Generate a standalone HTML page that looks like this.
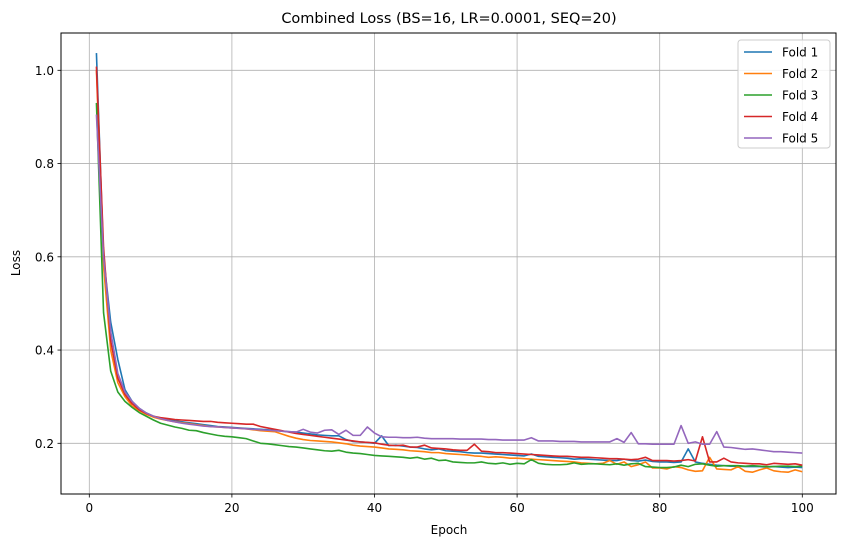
<!DOCTYPE html>
<html><head><meta charset="utf-8">
<style>
body{margin:0;background:#fff;}
svg text{font-family:"DejaVu Sans","Liberation Sans",sans-serif;fill:#000;}
</style></head>
<body>
<svg id="chart" width="846" height="547" viewBox="0 0 846 547" xmlns="http://www.w3.org/2000/svg">
<rect width="846" height="547" fill="#fff"/>
<text x="449" y="23" font-size="14.5" text-anchor="middle">Combined Loss (BS=16, LR=0.0001, SEQ=20)</text>
<g id="grid"></g>
<g id="lines"></g>
<rect x="61" y="33" width="775" height="461" fill="none" stroke="#000" stroke-width="1"/>
<g id="ticks"></g>
<text x="449" y="534" font-size="12" text-anchor="middle">Epoch</text>
<text x="20" y="263" font-size="12" text-anchor="middle" transform="rotate(-90 20 263)">Loss</text>
<g id="legend"></g>
</svg>
<script>
const foldNames=["Fold 1","Fold 2","Fold 3","Fold 4","Fold 5"];
const foldColors=["#1f77b4","#ff7f0e","#2ca02c","#d62728","#9467bd"];
const xTicks=[0,20,40,60,80,100];
const yTicks=[0.2,0.4,0.6,0.8,1.0];
const fold1=[1.037,0.60,0.46,0.38,0.315,0.29,0.275,0.265,0.258,0.254,0.251,0.248,0.246,0.244,0.242,0.240,0.238,0.236,0.235,0.234,0.233,0.232,0.231,0.230,0.229,0.228,0.226,0.225,0.224,0.222,0.220,0.218,0.217,0.216,0.216,0.208,0.204,0.203,0.202,0.200,0.216,0.195,0.196,0.194,0.192,0.191,0.188,0.186,0.188,0.184,0.183,0.182,0.180,0.179,0.179,0.178,0.177,0.176,0.175,0.174,0.173,0.177,0.172,0.171,0.170,0.169,0.168,0.166,0.167,0.166,0.165,0.164,0.163,0.163,0.166,0.163,0.162,0.164,0.161,0.160,0.160,0.159,0.160,0.188,0.160,0.157,0.155,0.153,0.152,0.151,0.151,0.150,0.150,0.150,0.149,0.150,0.149,0.148,0.149,0.148];
const fold2=[1.0,0.58,0.40,0.33,0.30,0.28,0.27,0.262,0.256,0.252,0.249,0.246,0.244,0.242,0.240,0.238,0.236,0.235,0.234,0.233,0.232,0.231,0.229,0.227,0.226,0.225,0.220,0.215,0.211,0.208,0.206,0.205,0.204,0.203,0.201,0.199,0.196,0.194,0.193,0.192,0.190,0.188,0.187,0.186,0.184,0.183,0.182,0.180,0.180,0.178,0.177,0.176,0.175,0.173,0.172,0.170,0.171,0.170,0.168,0.168,0.167,0.166,0.165,0.164,0.163,0.162,0.161,0.160,0.158,0.157,0.156,0.157,0.163,0.155,0.160,0.150,0.154,0.160,0.147,0.147,0.145,0.150,0.148,0.143,0.140,0.141,0.170,0.145,0.144,0.143,0.150,0.140,0.138,0.143,0.147,0.141,0.139,0.138,0.143,0.139];
const fold3=[0.93,0.48,0.355,0.31,0.29,0.277,0.266,0.258,0.250,0.243,0.239,0.235,0.232,0.228,0.227,0.223,0.220,0.217,0.215,0.214,0.212,0.210,0.205,0.200,0.199,0.197,0.195,0.193,0.192,0.190,0.188,0.186,0.184,0.183,0.185,0.181,0.179,0.178,0.176,0.174,0.173,0.172,0.171,0.170,0.168,0.170,0.166,0.168,0.163,0.164,0.160,0.159,0.158,0.158,0.160,0.157,0.156,0.158,0.155,0.157,0.156,0.165,0.157,0.155,0.154,0.154,0.155,0.158,0.155,0.156,0.156,0.155,0.154,0.156,0.153,0.156,0.157,0.150,0.149,0.148,0.148,0.149,0.153,0.150,0.155,0.156,0.153,0.151,0.152,0.152,0.152,0.151,0.152,0.151,0.150,0.150,0.151,0.151,0.150,0.151];
const fold4=[1.008,0.62,0.42,0.34,0.305,0.285,0.272,0.264,0.258,0.255,0.253,0.251,0.250,0.249,0.248,0.247,0.247,0.245,0.244,0.243,0.242,0.241,0.241,0.236,0.233,0.230,0.227,0.224,0.221,0.219,0.217,0.215,0.213,0.211,0.209,0.207,0.205,0.203,0.202,0.201,0.198,0.196,0.195,0.196,0.192,0.192,0.196,0.190,0.189,0.188,0.186,0.185,0.185,0.198,0.183,0.182,0.180,0.180,0.179,0.178,0.177,0.176,0.175,0.174,0.173,0.172,0.172,0.171,0.170,0.170,0.169,0.168,0.167,0.167,0.166,0.165,0.166,0.170,0.163,0.163,0.163,0.162,0.163,0.165,0.162,0.214,0.160,0.160,0.168,0.160,0.158,0.157,0.156,0.156,0.154,0.157,0.156,0.155,0.156,0.153];
const fold5=[0.905,0.60,0.44,0.35,0.31,0.29,0.275,0.265,0.258,0.253,0.249,0.246,0.243,0.241,0.239,0.237,0.236,0.235,0.234,0.233,0.232,0.231,0.230,0.229,0.228,0.227,0.226,0.225,0.224,0.230,0.224,0.222,0.228,0.229,0.219,0.228,0.217,0.217,0.235,0.222,0.214,0.213,0.213,0.212,0.212,0.213,0.211,0.210,0.210,0.210,0.210,0.209,0.209,0.209,0.209,0.208,0.208,0.207,0.207,0.207,0.207,0.212,0.205,0.205,0.205,0.204,0.204,0.204,0.203,0.203,0.203,0.203,0.203,0.210,0.202,0.223,0.199,0.199,0.198,0.198,0.198,0.198,0.238,0.200,0.203,0.198,0.198,0.225,0.192,0.191,0.189,0.187,0.188,0.186,0.184,0.182,0.182,0.181,0.180,0.179];
const series=[fold1,fold2,fold3,fold4,fold5];
const NS="http://www.w3.org/2000/svg";
function xs(e){return 89.3+(e)*7.13;}
function ys(v){return 443.3-(v-0.2)*466.25;}
function mk(tag,attrs,parent){const el=document.createElementNS(NS,tag);for(const k in attrs)el.setAttribute(k,attrs[k]);parent.appendChild(el);return el;}
const grid=document.getElementById('grid'),ticks=document.getElementById('ticks'),lines=document.getElementById('lines'),legend=document.getElementById('legend');
xTicks.forEach(t=>{const x=xs(t);
 const g=mk('line',{x1:x,x2:x,y1:33,y2:494,stroke:'#b0b0b0','stroke-width':0.8},grid);
 
 
 mk('line',{x1:x,x2:x,y1:494,y2:497.5,stroke:'#000','stroke-width':0.8},ticks);
 const tx=mk('text',{x:x,y:512,'font-size':12,'text-anchor':'middle'},ticks);tx.textContent=t;
 
 
});
yTicks.forEach(t=>{const y=ys(t);
 const g=mk('line',{x1:61,x2:836,y1:y,y2:y,stroke:'#b0b0b0','stroke-width':0.8},grid);
 
 
 mk('line',{x1:57.5,x2:61,y1:y,y2:y,stroke:'#000','stroke-width':0.8},ticks);
 const tx=mk('text',{x:54,y:y+4.5,'font-size':12,'text-anchor':'end'},ticks);tx.textContent=t.toFixed(1);
 
 
});
series.forEach((s,i)=>{
 const pts=s.map((v,j)=>xs(j+1).toFixed(2)+','+ys(v).toFixed(2)).join(' ');
 const pl=mk('polyline',{points:pts,fill:'none',stroke:foldColors[i],'stroke-width':1.6,'stroke-linejoin':'round'},lines);
 
 
});
const box=mk('rect',{x:738,y:40,width:92,height:108,rx:3,fill:'#fff','fill-opacity':0.85,stroke:'#ccc'},legend);


foldNames.forEach((n,i)=>{const y=52+i*21.5;
 const g=mk('g',{},legend);
 
 
 mk('line',{x1:744,x2:772,y1:y,y2:y,stroke:foldColors[i],'stroke-width':1.6},g);
 const t=mk('text',{x:782,y:y+4.5,'font-size':12},g);t.textContent=n;
});
</script>
</body></html>
